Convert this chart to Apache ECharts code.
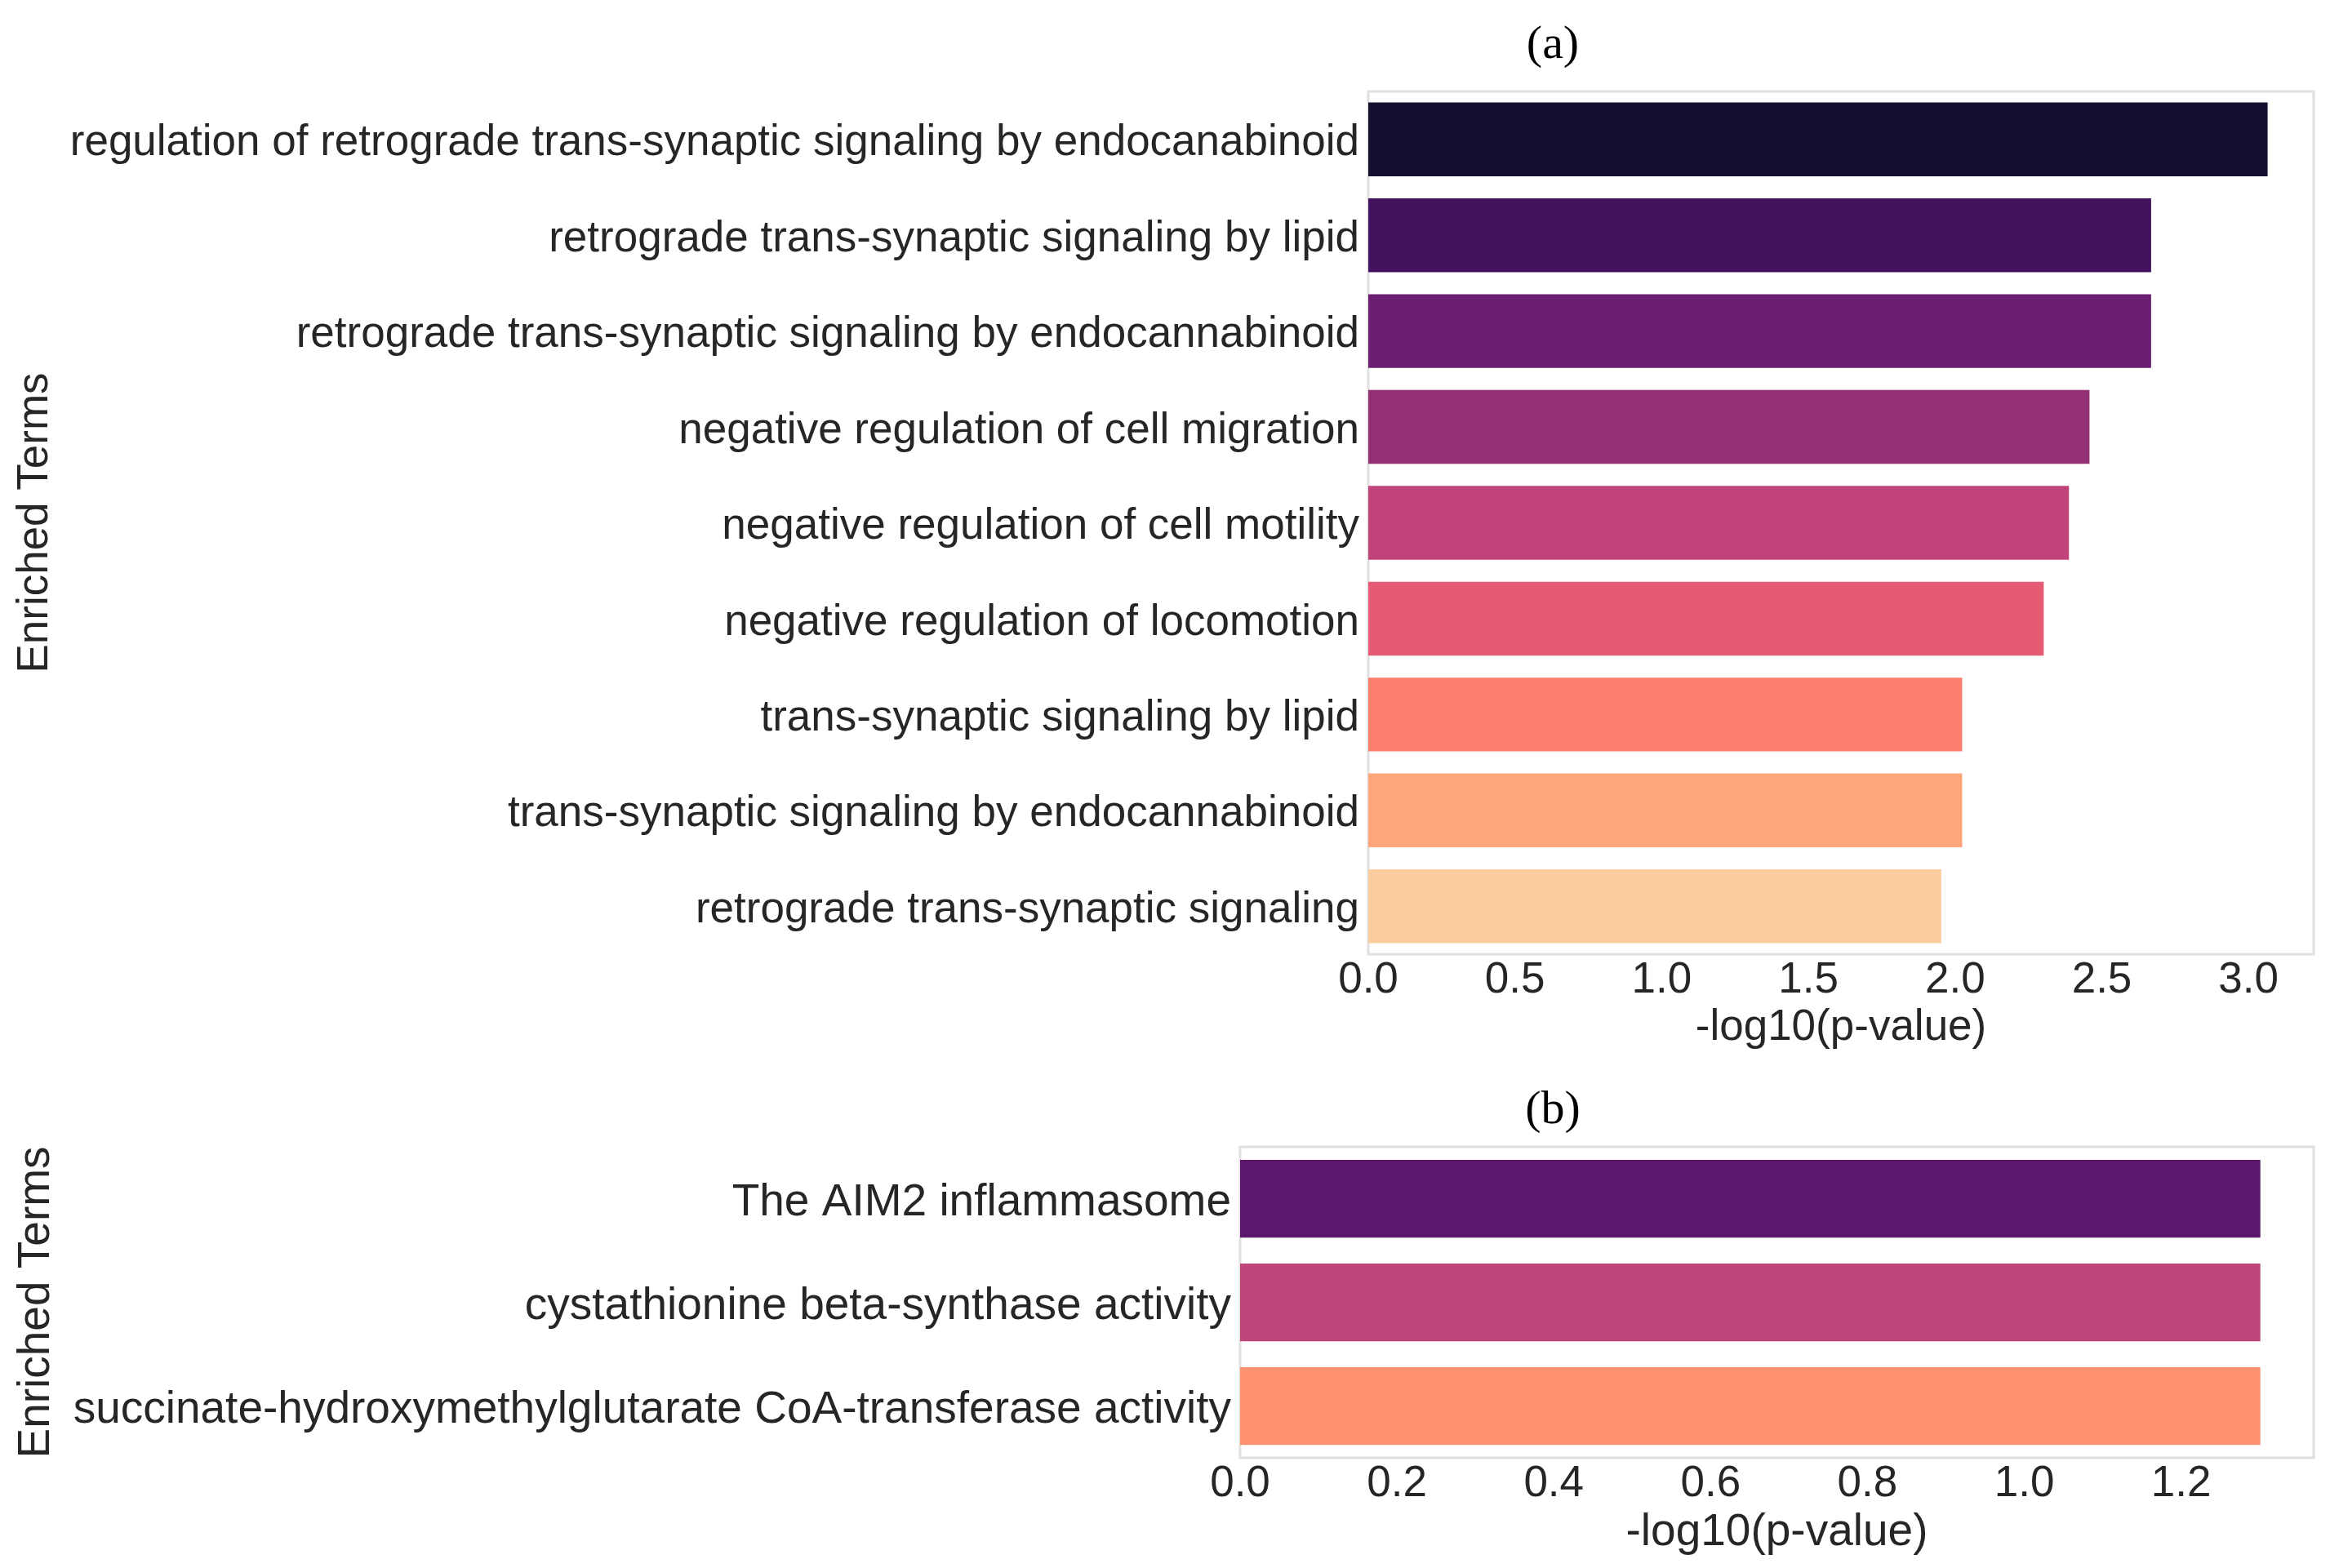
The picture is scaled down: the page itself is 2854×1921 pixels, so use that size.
<!DOCTYPE html>
<html>
<head>
<meta charset="utf-8">
<script src="https://cdn.jsdelivr.net/npm/echarts@6/dist/echarts.min.js"></script>
<style>
html,body{margin:0;padding:0;background:#fff;}
#chart{width:2854px;height:1921px;}
</style>
</head>
<body>
<div id="chart"></div>
<script>
const termsA = [
  'regulation of retrograde trans-synaptic signaling by endocanabinoid',
  'retrograde trans-synaptic signaling by lipid',
  'retrograde trans-synaptic signaling by endocannabinoid',
  'negative regulation of cell migration',
  'negative regulation of cell motility',
  'negative regulation of locomotion',
  'trans-synaptic signaling by lipid',
  'trans-synaptic signaling by endocannabinoid',
  'retrograde trans-synaptic signaling'
];
const valuesA = [3.065, 2.668, 2.668, 2.458, 2.388, 2.302, 2.024, 2.024, 1.953];
const colorsA = ['#150e2f', '#42125f', '#6b1e71', '#932f75', '#c0437a', '#e75a74', '#fd7e6c', '#fea57a', '#fccd9f'];

const termsB = [
  'The AIM2 inflammasome',
  'cystathionine beta-synthase activity',
  'succinate-hydroxymethylglutarate CoA-transferase activity'
];
const valuesB = [1.301, 1.301, 1.301];
const colorsB = ['#5a176c', '#c0457a', '#ff9070'];

const panelTitles = ['(a)', '(b)'];
const xName = '-log10(p-value)';
const yName = 'Enriched Terms';

const FONT = 'Liberation Sans, Arial, sans-serif';
const TXT = '#262626';
const FS = 53;
const FSB = 55;

function onTick(step) {
  return function (v) {
    const r = v / step;
    return Math.abs(r - Math.round(r)) < 1e-6 ? v.toFixed(1) : '';
  };
}
function catLabel(size) {
  return {
    fontFamily: FONT, fontSize: size, color: TXT, margin: 11,
    formatter: function (v) { return '{t|' + v + '}'; },
    rich: {t: {fontFamily: FONT, fontSize: size, color: TXT, padding: [10, 0, 0, 0]}}
  };
}

const chart = echarts.init(document.getElementById('chart'), null, {renderer: 'canvas'});
chart.setOption({
  backgroundColor: '#ffffff',
  animation: false,
  title: [
    {text: panelTitles[0], left: 1897, top: 22, textAlign: 'center',
     textStyle: {fontFamily: 'Liberation Serif, Times New Roman, serif', fontWeight: 'normal', fontSize: 58, color: '#000'}},
    {text: panelTitles[1], left: 1897, top: 1327, textAlign: 'center',
     textStyle: {fontFamily: 'Liberation Serif, Times New Roman, serif', fontWeight: 'normal', fontSize: 58, color: '#000'}}
  ],
  grid: [
    {left: 1676, top: 112, width: 1158, height: 1057, show: true, borderColor: '#e0e0e0', borderWidth: 3, backgroundColor: '#fff', containLabel: false},
    {left: 1519, top: 1405, width: 1315, height: 381, show: true, borderColor: '#e0e0e0', borderWidth: 3, backgroundColor: '#fff', containLabel: false}
  ],
  xAxis: [
    {type: 'value', gridIndex: 0, min: 0, max: 3.222, interval: 0.5,
     name: xName, nameLocation: 'middle', nameGap: 62,
     nameTextStyle: {fontFamily: FONT, fontSize: FS, color: TXT},
     axisLine: {show: false}, axisTick: {show: false}, splitLine: {show: false},
     axisLabel: {fontFamily: FONT, fontSize: FS, color: TXT, margin: 6, formatter: onTick(0.5)}},
    {type: 'value', gridIndex: 1, min: 0, max: 1.369, interval: 0.2,
     name: xName, nameLocation: 'middle', nameGap: 64,
     nameTextStyle: {fontFamily: FONT, fontSize: FSB, color: TXT},
     axisLine: {show: false}, axisTick: {show: false}, splitLine: {show: false},
     axisLabel: {fontFamily: FONT, fontSize: FS, color: TXT, margin: 6, formatter: onTick(0.2)}}
  ],
  yAxis: [
    {type: 'category', gridIndex: 0, data: termsA, inverse: true,
     name: yName, nameLocation: 'middle', nameGap: 1606, nameRotate: 90,
     nameTextStyle: {fontFamily: FONT, fontSize: FS, color: TXT},
     axisLine: {show: false}, axisTick: {show: false},
     axisLabel: catLabel(FS)},
    {type: 'category', gridIndex: 1, data: termsB, inverse: true,
     name: yName, nameLocation: 'middle', nameGap: 1447, nameRotate: 90,
     nameTextStyle: {fontFamily: FONT, fontSize: FSB, color: TXT},
     axisLine: {show: false}, axisTick: {show: false},
     axisLabel: catLabel(FSB)}
  ],
  series: [
    {type: 'bar', xAxisIndex: 0, yAxisIndex: 0, barWidth: '77%',
     data: valuesA.map((v, i) => ({value: v, itemStyle: {color: colorsA[i]}}))},
    {type: 'bar', xAxisIndex: 1, yAxisIndex: 1, barWidth: '75%',
     data: valuesB.map((v, i) => ({value: v, itemStyle: {color: colorsB[i]}}))}
  ]
});
</script>
</body>
</html>
